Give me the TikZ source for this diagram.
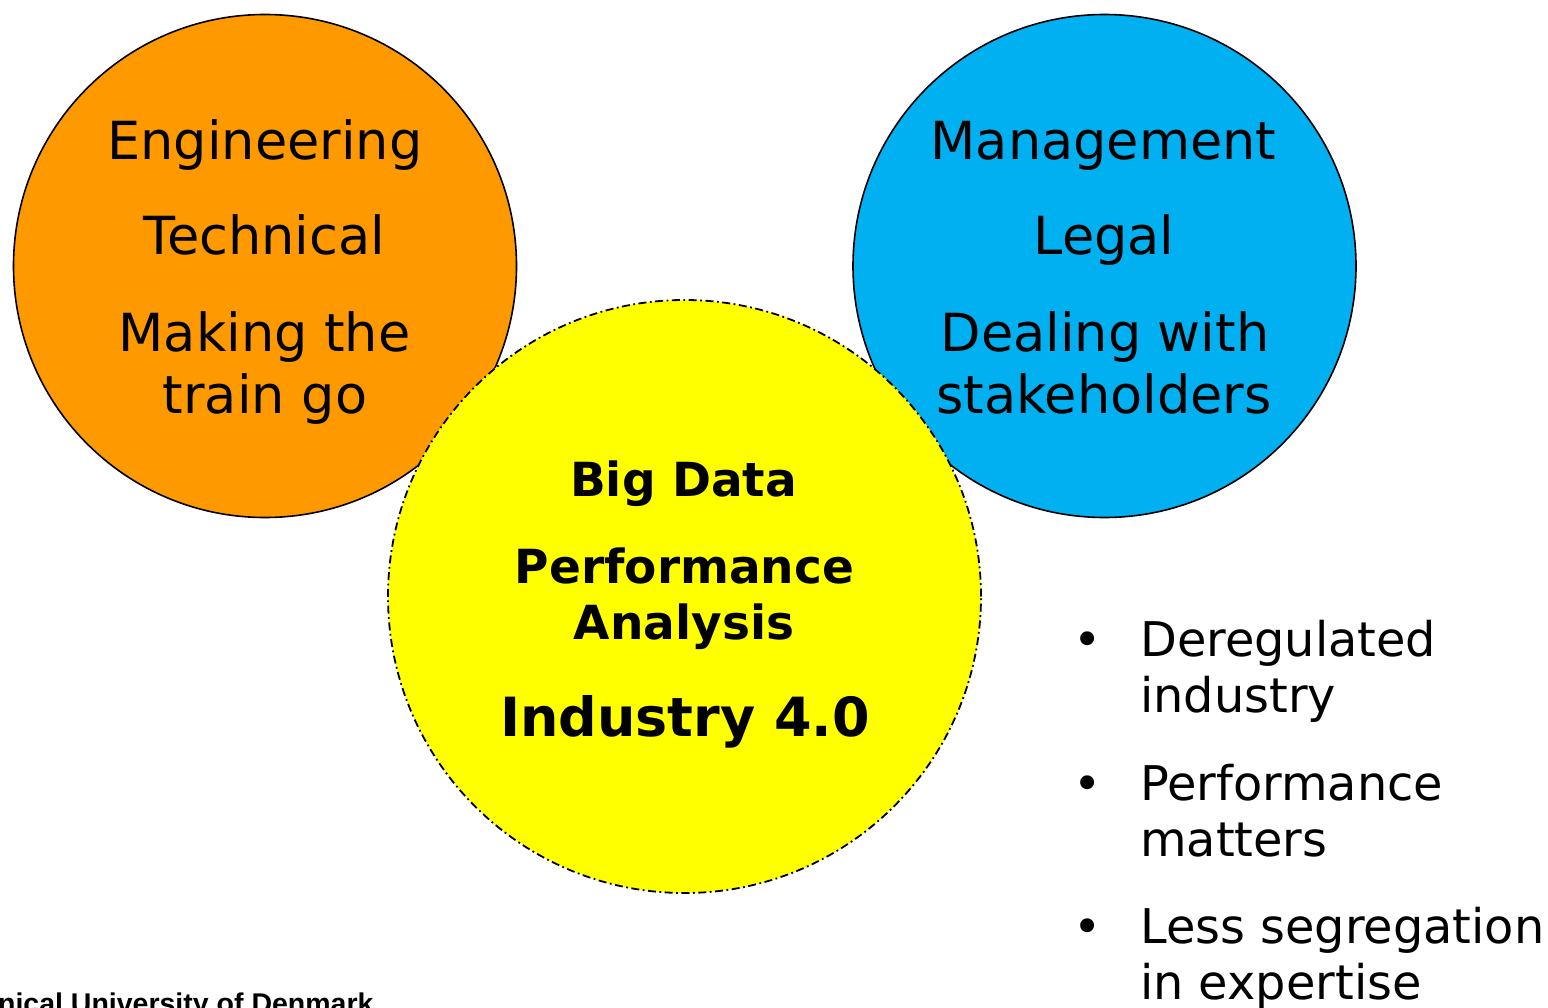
\documentclass[tikz,border=0pt]{standalone}
\usepackage{fontspec}
\setmainfont{DejaVu Sans}
\newfontfamily\arialfont{Liberation Sans}
\definecolor{cOrange}{HTML}{FF9900}
\definecolor{cBlue}{HTML}{00B0F0}
\definecolor{cYellow}{HTML}{FFFF00}
\begin{document}
\begin{tikzpicture}[x=1pt,y=-1pt,
  bigcirc/.style={circle,draw=black,line width=1.6pt,inner sep=0pt},
  regtext/.style={inner sep=0pt,anchor=base,font=\fontsize{52.5}{60}\selectfont},
  boldtext/.style={inner sep=0pt,anchor=base,font=\fontsize{47}{56}\selectfont\bfseries},
  bigbold/.style={inner sep=0pt,anchor=base,font=\fontsize{54}{62}\selectfont\bfseries},
  bullettext/.style={inner sep=0pt,anchor=base west,font=\fontsize{47.8}{56}\selectfont},
  bulletmark/.style={inner sep=0pt,anchor=base,font=\fontsize{47.8}{56}\selectfont}]
\useasboundingbox (0,0) rectangle (1548,1008);
\clip (0,0) rectangle (1548,1008);
\fill[white] (0,0) rectangle (1548,1008);
% circles
\node[bigcirc,fill=cOrange,minimum size=503pt] (eng) at (265,266) {};
\node[bigcirc,fill=cBlue,minimum size=503pt] (mgmt) at (1104.5,266) {};
\node[circle,draw=black,fill=cYellow,line width=1.8pt,inner sep=0pt,minimum size=593pt,
  dash pattern=on 8pt off 3.5pt on 1.8pt off 3.5pt] (bigdata) at (684.5,596.5) {};
% orange texts
\node[regtext] (t1) at (265,160) {Engineering};
\node[regtext] (t2) at (264.5,255) {Technical};
\node[regtext] (t3) at (264.5,352) {Making the};
\node[regtext] (t4) at (265,413) {train go};
% blue texts
\node[regtext] (m1) at (1103.5,160) {Management};
\node[regtext] (m2) at (1104,255) {Legal};
\node[regtext] (m3) at (1105,352) {Dealing with};
\node[regtext] (m4) at (1104,413) {stakeholders};
% yellow texts
\node[boldtext] (y1) at (683.5,496) {Big Data};
\node[boldtext] (y2) at (684.5,583) {Performance};
\node[boldtext] (y3) at (684,639) {Analysis};
\node[bigbold] (y4) at (685,736) {Industry 4.0};
% bullets
\node[bulletmark] (b1) at (1088,656) {•};
\node[bullettext] (b1a) at (1140,656) {Deregulated};
\node[bullettext] (b1b) at (1140,712) {industry};
\node[bulletmark] (b2) at (1088,800) {•};
\node[bullettext] (b2a) at (1140,800) {Performance};
\node[bullettext] (b2b) at (1140,856) {matters};
\node[bulletmark] (b3) at (1088,943) {•};
\node[bullettext] (b3a) at (1140,943) {Less segregation};
\node[bullettext] (b3b) at (1140,999) {in expertise};
% footer
\node[inner sep=0pt,anchor=base west,font=\arialfont\fontsize{28.5}{32}\selectfont\bfseries] (foot) at (-66.5,1013) {Technical University of Denmark};
\end{tikzpicture}
\end{document}
